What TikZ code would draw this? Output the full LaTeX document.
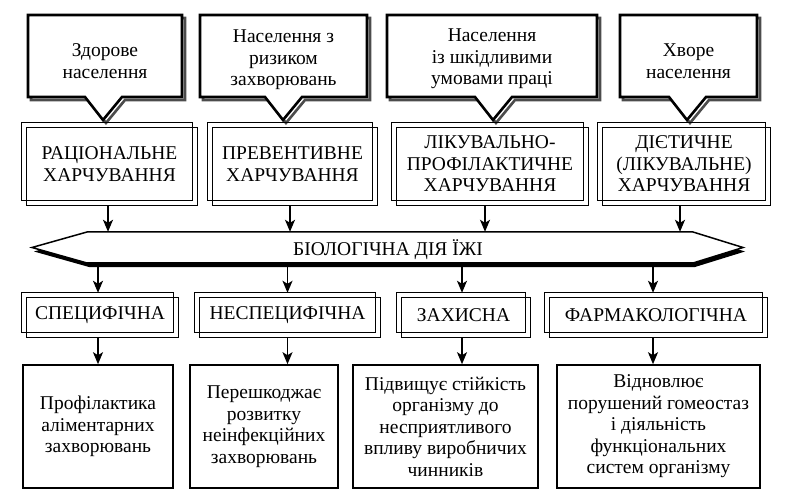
\documentclass[tikz,border=0pt]{standalone}
\usepackage{fontspec}
\setmainfont{Liberation Serif}
\usetikzlibrary{arrows.meta}

\begin{document}
\begin{tikzpicture}[x=1pt, y=-1pt,
  lbl/.style={font=\rmfamily\fontsize{19.5}{21.5}\selectfont, align=center, inner sep=0pt},
  frame/.style={draw, line width=1.2pt},
  plainbox/.style={lbl, draw, line width=1.6pt},
  arr/.style={-{Stealth[length=12pt, width=10pt, inset=3pt]}, line width=1.5pt},
  bubble/.style={fill=white, draw=black, line width=2.6pt, line join=miter},
  bubbleshadow/.style={draw=black!70, line width=2.6pt, line join=miter},
  bannerfill/.style={fill=white, draw=black, line width=1.5pt, line join=miter},
  bannershadow/.style={fill=black}]
\useasboundingbox (0,0) rectangle (791,502);

% speech-bubble callouts with a downward pointer
\foreach \xa/\xb/\tx in {28/182/103, 200/367/283, 387/597/493, 620/757/687} {
  \draw[bubbleshadow, shift={(3,3)}]
    (\xa,15) -- (\xb,15) -- (\xb,97) -- ({\tx+19},97) -- (\tx,120) -- ({\tx-18},97) -- (\xa,97) -- cycle;
  \draw[bubble]
    (\xa,15) -- (\xb,15) -- (\xb,97) -- ({\tx+19},97) -- (\tx,120) -- ({\tx-18},97) -- (\xa,97) -- cycle;
}
\node[lbl] (c1) at (105,61) {Здорове\\населення};
\node[lbl] (c2) at (283.5,60) {Населення з\\ризиком\\захворювань};
\node[lbl] (c3) at (492,59) {Населення\\із шкідливими\\умовами праці};
\node[lbl] (c4) at (688.5,61) {Хворе\\населення};

% types of nutrition (double frames)
\node[lbl, minimum width=175pt, minimum height=82pt] (ra) at (109.5,164) {РАЦІОНАЛЬНЕ\\ХАРЧУВАННЯ};
\node[lbl, minimum width=169pt, minimum height=82pt] (rb) at (292.5,164) {ПРЕВЕНТИВНЕ\\ХАРЧУВАННЯ};
\node[lbl, minimum width=196pt, minimum height=82pt] (rc) at (490,164) {ЛІКУВАЛЬНО-\\ПРОФІЛАКТИЧНЕ\\ХАРЧУВАННЯ};
\node[lbl, minimum width=172pt, minimum height=82pt] (rd) at (684,164) {ДІЄТИЧНЕ\\(ЛІКУВАЛЬНЕ)\\ХАРЧУВАННЯ};

% kinds of action (double frames)
\node[lbl, minimum width=156pt, minimum height=44pt] (sa) at (100,315) {СПЕЦИФІЧНА};
\node[lbl, minimum width=185pt, minimum height=44pt] (sb) at (287.5,315) {НЕСПЕЦИФІЧНА};
\node[lbl, minimum width=133pt, minimum height=44pt] (sc) at (463.5,315) {ЗАХИСНА};
\node[lbl, minimum width=222pt, minimum height=44pt] (sd) at (656,315) {ФАРМАКОЛОГІЧНА};

\foreach \n in {ra,rb,rc,rd,sa,sb,sc,sd} {
  \draw[frame] (\n.north west) rectangle ([shift={(-5,-5)}]\n.south east);
  \draw[frame] ([shift={(5,5)}]\n.north west) rectangle (\n.south east);
}

% effects
\node[plainbox, minimum width=150pt, minimum height=123pt] (ba) at (98,426.5) {Профілактика\\аліментарних\\захворювань};
\node[plainbox, minimum width=148pt, minimum height=123pt] (bb) at (264,426.5) {Перешкоджає\\розвитку\\неінфекційних\\захворювань};
\node[plainbox, minimum width=185pt, minimum height=123pt] (bc) at (445.5,426.5) {Підвищує стійкість\\організму до\\несприятливого\\впливу виробничих\\чинників};
\node[plainbox, minimum width=203pt, minimum height=123pt] (bd) at (658.5,426.5) {Відновлює\\порушений гомеостаз\\і діяльність\\функціональних\\систем організму};

% central banner
\fill[bannershadow, shift={(2,4)}] (32,247.5) -- (87,232) -- (693,232) -- (743,247.5) -- (693,263) -- (87,263) -- cycle;
\draw[bannerfill] (32,247.5) -- (87,232) -- (693,232) -- (743,247.5) -- (693,263) -- (87,263) -- cycle;
\node[lbl, minimum width=600pt, minimum height=35pt] (ban) at (388,249.5) {БІОЛОГІЧНА ДІЯ ЇЖІ};

% connectors
\foreach \n/\dx in {ra/-1.5, rb/-2.5, rc/-5, rd/-4}
  \draw[arr] ([xshift=\dx pt]\n.south) -- ([xshift=\dx pt]\n.south |- ban.north);
\foreach \n/\m/\dx in {sa/ba/-2, sb/bb/0, sc/bc/-1.5, sd/bd/-3} {
  \draw[arr] ([xshift=\dx pt]\n.north |- ban.south) -- ([xshift=\dx pt]\n.north);
  \draw[arr] ([xshift=\dx pt]\n.south) -- ([xshift=\dx pt]\n.south |- \m.north);
}
\end{tikzpicture}
\end{document}
